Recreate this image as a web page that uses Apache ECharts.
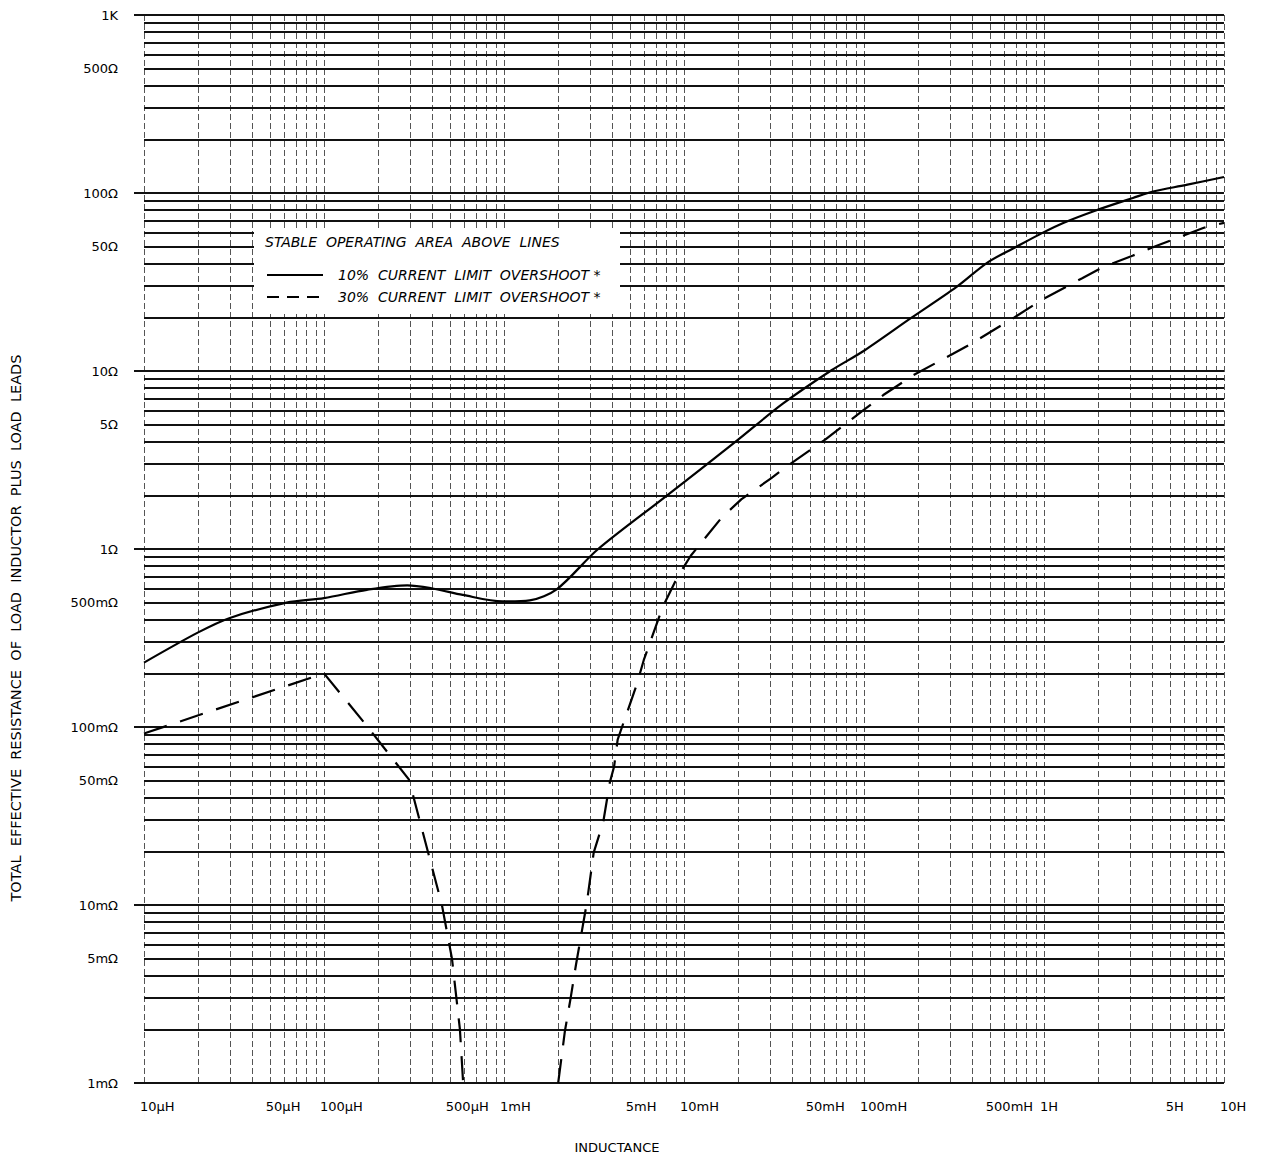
<!DOCTYPE html>
<html>
<head>
<meta charset="utf-8">
<script src="https://cdn.jsdelivr.net/npm/echarts@6/dist/echarts.min.js"></script>
<style>
  html, body { margin: 0; padding: 0; background: #fff; }
  #chart { width: 1261px; height: 1158px; }
</style>
</head>
<body>
<div id="chart"></div>
<script>
// inductance in henries, resistance in ohms
var solidL = [1e-5, 2e-5, 3e-5, 6.2e-5, 1e-4, 1.73e-4, 2.9e-4, 4.0e-4, 5.9e-4, 9.8e-4, 1.39e-3, 1.97e-3,
  3.3e-3, 7.8e-3, 1.92e-2, 3.54e-2, 6.6e-2, 0.1, 0.182, 0.327, 0.487, 0.69, 0.98, 1.27, 1.94, 3.12, 4.03, 6.17, 10];
var solidR = [0.23, 0.34, 0.41, 0.5, 0.53, 0.59, 0.625, 0.6, 0.552, 0.508, 0.515, 0.596,
  0.99, 1.95, 3.98, 6.55, 10.1, 13.0, 19.8, 29.7, 40.8, 49.4, 59.7, 67.7, 79.8, 93.8, 102, 111, 123];

// null marks where the 30% curve leaves the chart below 1mΩ
var dashL = [1e-5, 1e-4, 1.75e-4, 2.96e-4, 4.52e-4, 5.14e-4, 5.69e-4, 5.93e-4, null,
  2.0e-3, 2.18e-3, 2.34e-3, 2.51e-3, 2.89e-3, 3.15e-3, 3.56e-3, 3.87e-3, 4.09e-3, 4.28e-3, 5.45e-3, 5.98e-3,
  7.6e-3, 9.16e-3, 1.09e-2, 1.61e-2, 2.08e-2, 3.07e-2, 3.83e-2, 6.11e-2, 9.84e-2, 0.128, 0.188, 0.393,
  0.685, 0.97, 1.63, 2.1, 3.1, 4.16, 7.73, 10];
var dashR = [0.092, 0.2, 0.1, 0.0508, 0.01, 0.005, 0.002, 0.001, null,
  0.001, 0.00196, 0.00296, 0.0046, 0.0104, 0.0197, 0.0293, 0.0487, 0.06, 0.085, 0.172, 0.238,
  0.47, 0.69, 0.916, 1.49, 1.90, 2.51, 2.97, 4.13, 5.98, 7.33, 9.47, 14.2,
  20.0, 25.1, 33.2, 38.1, 44.4, 50.2, 63.8, 68];

var xTicks = [1e-5, 5e-5, 1e-4, 5e-4, 1e-3, 5e-3, 1e-2, 5e-2, 0.1, 0.5, 1, 5, 10];
var xTickLabels = ['10µH', '50µH', '100µH', '500µH', '1mH', '5mH', '10mH', '50mH', '100mH', '500mH', '1H', '5H', '10H'];
var yTicks = [1000, 500, 100, 50, 10, 5, 1, 0.5, 0.1, 0.05, 0.01, 0.005, 0.001];
var yTickLabels = ['1K', '500Ω', '100Ω', '50Ω', '10Ω', '5Ω', '1Ω', '500mΩ', '100mΩ', '50mΩ', '10mΩ', '5mΩ', '1mΩ'];

var name10 = '10%  CURRENT  LIMIT  OVERSHOOT *';
var name30 = '30%  CURRENT  LIMIT  OVERSHOOT *';
var FONT = 'DejaVu Sans';

function pairs(xs, ys) {
  var out = [];
  for (var i = 0; i < xs.length; i++) {
    out.push(xs[i] == null ? ['-', '-'] : [xs[i], ys[i]]);
  }
  return out;
}

function labelFor(v, ticks, names) {
  for (var i = 0; i < ticks.length; i++) {
    if (Math.abs(ticks[i] / v - 1) < 1e-6) return names[i];
  }
  return null;
}

// 1..9 lines in every decade
function logLines(fromExp, toExp) {
  var out = [];
  for (var e = fromExp; e < toExp; e++) {
    for (var m = 1; m < 10; m++) out.push(+(m * Math.pow(10, e)).toPrecision(3));
  }
  out.push(Math.pow(10, toExp));
  return out;
}

var vLines = logLines(-5, 1).map(function (v) {
  var item = { xAxis: v };
  var t = labelFor(v, xTicks, xTickLabels);
  if (t) {
    item.label = { show: true, position: 'start', distance: 17, formatter: t, align: 'left',
      offset: [-4, 0], color: '#000', fontSize: 13, fontFamily: FONT };
  }
  return item;
});

var hLines = logLines(-3, 3).map(function (v) {
  var item = { yAxis: v };
  var t = labelFor(v, yTicks, yTickLabels);
  if (t) {
    item.label = { show: true, position: 'start', distance: 26, formatter: t,
      color: '#000', fontSize: 13, fontFamily: FONT };
  }
  return item;
});

var chart = echarts.init(document.getElementById('chart'), null, { renderer: 'svg' });

var option = {
  animation: false,
  backgroundColor: '#fff',
  grid: { left: 144, right: 37, top: 15, bottom: 75 },
  xAxis: {
    type: 'log', logBase: 10, min: 1e-5, max: 10,
    axisLine: { show: false }, axisTick: { show: false },
    axisLabel: { show: false }, splitLine: { show: false }
  },
  yAxis: {
    type: 'log', logBase: 10, min: 1e-3, max: 1e3,
    axisLine: { show: false },
    axisTick: { show: true, length: 10, lineStyle: { color: '#111', width: 2 } },
    axisLabel: { show: false }, splitLine: { show: false }
  },
  legend: {
    orient: 'vertical', left: 266, top: 268, padding: 0,
    itemWidth: 56, itemHeight: 14, itemGap: 8, z: 60,
    selectedMode: false,
    itemStyle: { opacity: 0 },
    textStyle: { fontSize: 14, fontStyle: 'italic', fontFamily: FONT, color: '#000', padding: [0, 0, 0, 10] },
    data: [
      { name: name10 },
      { name: name30, lineStyle: { type: [12, 8] } }
    ]
  },
  graphic: [
    { type: 'rect', z: 50, shape: { x: 254, y: 228, width: 366, height: 86 }, style: { fill: '#fff' } },
    { type: 'text', z: 51, x: 265, y: 242,
      style: { text: 'STABLE  OPERATING  AREA  ABOVE  LINES', fill: '#000', fontSize: 14, fontStyle: 'italic',
        fontFamily: FONT, verticalAlign: 'middle', textVerticalAlign: 'middle' } },
    { type: 'text', x: 617, y: 1147,
      style: { text: 'INDUCTANCE', fill: '#000', fontSize: 13, fontFamily: FONT,
        align: 'center', textAlign: 'center', verticalAlign: 'middle', textVerticalAlign: 'middle' } },
    { type: 'text', x: 16, y: 628, rotation: Math.PI / 2,
      style: { text: 'TOTAL  EFFECTIVE  RESISTANCE  OF  LOAD  INDUCTOR  PLUS  LOAD  LEADS', fill: '#000',
        fontSize: 14.5, fontFamily: FONT, align: 'center', textAlign: 'center',
        verticalAlign: 'middle', textVerticalAlign: 'middle' } }
  ],
  series: [
    {
      name: 'vgrid', type: 'line', data: [], silent: true,
      markLine: {
        silent: true, symbol: ['none', 'none'], animation: false, precision: 10,
        label: { show: false },
        lineStyle: { color: '#555', width: 1, type: [6, 3] },
        emphasis: { disabled: true },
        data: vLines
      }
    },
    {
      name: 'hgrid', type: 'line', data: [], silent: true,
      markLine: {
        silent: true, symbol: ['none', 'none'], animation: false, precision: 10,
        label: { show: false },
        lineStyle: { color: '#111', width: 2, type: 'solid' },
        emphasis: { disabled: true },
        data: hLines
      }
    },
    {
      name: name10, type: 'line', z: 5, smooth: 0.3, showSymbol: false, symbol: 'none',
      color: '#000',
      lineStyle: { color: '#000', width: 2.2 },
      data: pairs(solidL, solidR)
    },
    {
      name: name30, type: 'line', z: 5, showSymbol: false, symbol: 'none',
      connectNulls: false, color: '#000',
      lineStyle: { color: '#000', width: 2.2, type: [24, 14] },
      data: pairs(dashL, dashR)
    }
  ]
};

chart.setOption(option);
</script>
</body>
</html>
